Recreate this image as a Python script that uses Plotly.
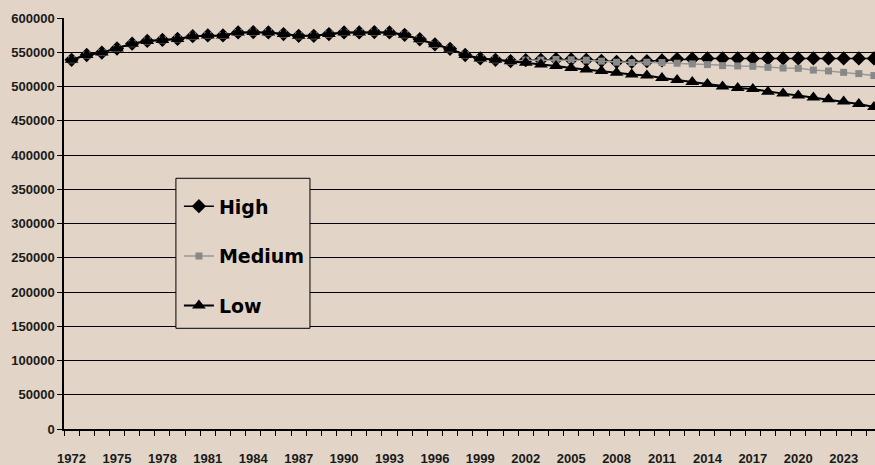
import plotly.graph_objects as go

years = list(range(1972, 2026))

common = [539000, 546000, 549500, 555500, 562500, 566500, 568000, 569500, 573500, 574500,
          574500, 579000, 579500, 579000, 576500, 574000, 574000, 576500, 579000, 579000,
          579500, 579000, 575500, 569000, 561500, 555000, 546000, 541000, 539000, 537000]

high_tail = [538500, 539000, 540000, 539500, 539000, 537500, 536000, 536000, 537000, 538000,
             540000, 540500, 541000, 541000, 541000, 541000, 541000, 541000, 541000, 541000,
             541000, 541000, 541000, 541000]
medium_tail = [538500, 538500, 539500, 539000, 538500, 537000, 535500, 535000, 535500, 535000,
               534000, 533000, 532000, 530500, 530000, 529500, 528000, 527000, 526500, 524000,
               522700, 520700, 518800, 516000]
low_tail = [534500, 532000, 530000, 527000, 525000, 522700, 520000, 517700, 516000, 512500,
            509400, 506500, 503600, 500000, 497800, 496300, 492500, 489600, 486700, 483800,
            481300, 478000, 474500, 470000]

high = common + high_tail
medium = common + medium_tail
low = common + low_tail

label_years = list(range(1972, 2024, 3))
y_ticks = list(range(0, 600001, 50000))

BG = "#E2D5C7"

fig = go.Figure()
fig.add_trace(go.Scatter(x=years, y=high, name="High", mode="lines+markers",
                         line=dict(color="black", width=1.5),
                         marker=dict(symbol="diamond", size=11, color="black"),
                         legendgroup="a"))
fig.add_trace(go.Scatter(x=years, y=medium, name="Medium", mode="lines+markers",
                         line=dict(color="#999999", width=1.5),
                         marker=dict(symbol="square", size=7, color="#888888"),
                         legendgroup="b"))
fig.add_trace(go.Scatter(x=years, y=low, name="Low", mode="lines+markers",
                         line=dict(color="black", width=2),
                         marker=dict(symbol="triangle-up", size=12, color="black"),
                         legendgroup="c"))

tick_font = dict(family="Liberation Sans, Arial, sans-serif", size=13,
                 color="#1a1a1a", weight="bold")

# legend frame (plot area: x 64..875, y 18..428.5)
fig.add_shape(type="rect", xref="paper", yref="paper",
              x0=0.138, x1=0.3033, y0=0.245, y1=0.610,
              fillcolor=BG, line=dict(color="black", width=1), layer="above")

fig.update_layout(
    width=875, height=465,
    margin=dict(l=64, r=0, t=18, b=36),
    paper_bgcolor=BG, plot_bgcolor=BG,
    showlegend=True,
    legend=dict(x=0.1417, y=0.588, xanchor="left", yanchor="top",
                bgcolor="rgba(0,0,0,0)", borderwidth=0,
                font=dict(family="DejaVu Sans", size=19, color="black", weight="bold"),
                tracegroupgap=22, itemwidth=30),
    xaxis=dict(range=[1971.5, 2025.07], tickmode="array", tickvals=label_years,
               ticktext=[str(y) for y in label_years], ticks="",
               ticklabelstandoff=17, tickfont=tick_font,
               showgrid=False, zeroline=False,
               showline=True, linecolor="black", linewidth=1.5,
               minor=dict(tickmode="linear", tick0=1971.5, dtick=1, ticks="outside",
                          ticklen=5, tickcolor="black", tickwidth=1, showgrid=False)),
    yaxis=dict(range=[0, 600000], tickmode="array", tickvals=y_ticks,
               ticktext=[str(v) for v in y_ticks],
               ticks="outside", ticklen=5, tickcolor="black", tickwidth=1,
               tickfont=tick_font, showgrid=True, gridcolor="black", gridwidth=1.2,
               zeroline=False, showline=True, linecolor="black", linewidth=1.5),
)

fig.write_html("out.html",
               config={"displayModeBar": False},
               post_script="document.body.style.margin='0px';"
                           "document.body.style.overflow='hidden';")
